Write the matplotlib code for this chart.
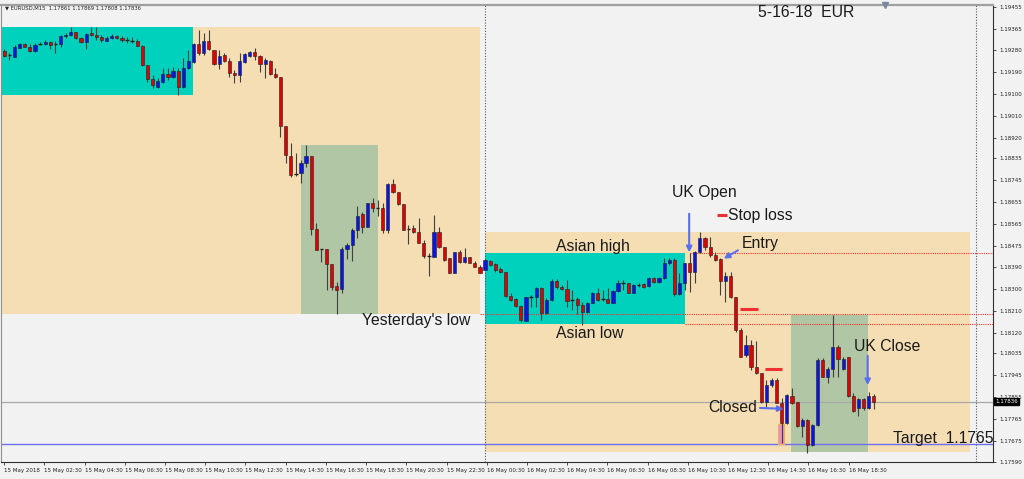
import matplotlib
matplotlib.use("Agg")
import matplotlib.pyplot as plt
import matplotlib.transforms as mtransforms
from matplotlib.patches import Rectangle
import numpy as np

# EURUSD M15 candles, 15 May 00:30 -> 16 May ~19:45
opens = [1.19277, 1.19259, 1.19252, 1.19289, 1.19303, 1.19293, 1.19277, 1.19303, 1.19303, 1.19314,
         1.19304, 1.19304, 1.19337, 1.19340, 1.19352, 1.19328, 1.19314, 1.19348, 1.19341, 1.19332,
         1.19318, 1.19328, 1.19337, 1.19328, 1.19321, 1.19318, 1.19318, 1.19297, 1.19218, 1.19160,
         1.19129, 1.19148, 1.19181, 1.19168, 1.19194, 1.19127, 1.19205, 1.19232, 1.19304, 1.19266,
         1.19317, 1.19280, 1.19221, 1.19258, 1.19236, 1.19187, 1.19177, 1.19229, 1.19256, 1.19272,
         1.19256, 1.19221, 1.19235, 1.19180, 1.19170, 1.18968, 1.18845, 1.18771, 1.18776, 1.18817,
         1.18845, 1.18544, 1.18462, 1.18462, 1.18400, 1.18311, 1.18298, 1.18462, 1.18480, 1.18541,
         1.18607, 1.18552, 1.18651, 1.18630, 1.18630, 1.18541, 1.18730, 1.18698, 1.18647, 1.18544,
         1.18551, 1.18534, 1.18489, 1.18434, 1.18431, 1.18532, 1.18470, 1.18425, 1.18366, 1.18450,
         1.18411, 1.18429, 1.18407, 1.18390, 1.18377, 1.18415, 1.18402, 1.18380, 1.18370, 1.18270,
         1.18257, 1.18229, 1.18169, 1.18267, 1.18267, 1.18304, 1.18199, 1.18254, 1.18333, 1.18308,
         1.18298, 1.18254, 1.18257, 1.18233, 1.18206, 1.18243, 1.18284, 1.18257, 1.18257, 1.18243,
         1.18291, 1.18322, 1.18322, 1.18284, 1.18315, 1.18318, 1.18311, 1.18343, 1.18326, 1.18343,
         1.18407, 1.18418, 1.18278, 1.18325, 1.18404, 1.18370, 1.18452, 1.18510, 1.18473, 1.18439,
         1.18421, 1.18332, 1.18352, 1.18265, 1.18131, 1.18028, 1.18069, 1.17978, 1.17953, 1.17836,
         1.17905, 1.17926, 1.17832, 1.17748, 1.17860, 1.17836, 1.17737, 1.17761, 1.17659, 1.17741,
         1.18008, 1.17939, 1.17969, 1.18062, 1.17969, 1.18019, 1.17860, 1.17809, 1.17848, 1.17809, 1.17861]
highs = [1.19283, 1.19269, 1.19300, 1.19307, 1.19307, 1.19303, 1.19307, 1.19313, 1.19321, 1.19318,
         1.19318, 1.19341, 1.19351, 1.19375, 1.19355, 1.19334, 1.19348, 1.19375, 1.19373, 1.19341,
         1.19337, 1.19344, 1.19341, 1.19337, 1.19332, 1.19334, 1.19324, 1.19300, 1.19218, 1.19177,
         1.19164, 1.19205, 1.19205, 1.19209, 1.19205, 1.19246, 1.19280, 1.19310, 1.19362, 1.19351,
         1.19362, 1.19280, 1.19280, 1.19266, 1.19246, 1.19198, 1.19266, 1.19269, 1.19277, 1.19287,
         1.19259, 1.19246, 1.19239, 1.19207, 1.19170, 1.18968, 1.18897, 1.18858, 1.18828, 1.18890,
         1.18845, 1.18569, 1.18462, 1.18462, 1.18400, 1.18329, 1.18473, 1.18489, 1.18548, 1.18640,
         1.18616, 1.18653, 1.18671, 1.18664, 1.18651, 1.18733, 1.18749, 1.18698, 1.18647, 1.18562,
         1.18562, 1.18589, 1.18500, 1.18445, 1.18603, 1.18555, 1.18473, 1.18425, 1.18452, 1.18459,
         1.18466, 1.18431, 1.18415, 1.18397, 1.18422, 1.18418, 1.18404, 1.18388, 1.18370, 1.18281,
         1.18261, 1.18233, 1.18267, 1.18274, 1.18308, 1.18308, 1.18261, 1.18339, 1.18339, 1.18315,
         1.18336, 1.18295, 1.18267, 1.18247, 1.18246, 1.18288, 1.18302, 1.18295, 1.18302, 1.18295,
         1.18336, 1.18336, 1.18325, 1.18319, 1.18325, 1.18325, 1.18347, 1.18349, 1.18347, 1.18425,
         1.18425, 1.18425, 1.18363, 1.18407, 1.18445, 1.18455, 1.18534, 1.18514, 1.18514, 1.18452,
         1.18425, 1.18370, 1.18370, 1.18267, 1.18138, 1.18110, 1.18090, 1.18087, 1.17953, 1.17926,
         1.17932, 1.17932, 1.17850, 1.17868, 1.17893, 1.17836, 1.17768, 1.17764, 1.17745, 1.18015,
         1.18015, 1.17980, 1.18192, 1.18069, 1.18021, 1.18021, 1.17871, 1.17850, 1.17852, 1.17878, 1.17869]
lows = [1.19250, 1.19239, 1.19252, 1.19287, 1.19291, 1.19273, 1.19273, 1.19299, 1.19299, 1.19284,
        1.19266, 1.19293, 1.19328, 1.19337, 1.19326, 1.19310, 1.19283, 1.19337, 1.19321, 1.19314,
        1.19317, 1.19324, 1.19324, 1.19314, 1.19307, 1.19310, 1.19296, 1.19214, 1.19150, 1.19123,
        1.19123, 1.19143, 1.19157, 1.19164, 1.19095, 1.19123, 1.19201, 1.19225, 1.19259, 1.19259,
        1.19280, 1.19218, 1.19201, 1.19232, 1.19168, 1.19143, 1.19150, 1.19225, 1.19252, 1.19239,
        1.19191, 1.19164, 1.19177, 1.19164, 1.18924, 1.18815, 1.18760, 1.18763, 1.18733, 1.18801,
        1.18521, 1.18459, 1.18411, 1.18295, 1.18295, 1.18196, 1.18281, 1.18421, 1.18415, 1.18507,
        1.18528, 1.18552, 1.18616, 1.18599, 1.18528, 1.18530, 1.18692, 1.18644, 1.18541, 1.18484,
        1.18528, 1.18486, 1.18425, 1.18352, 1.18431, 1.18466, 1.18415, 1.18363, 1.18363, 1.18404,
        1.18404, 1.18404, 1.18388, 1.18363, 1.18377, 1.18393, 1.18370, 1.18363, 1.18267, 1.18251,
        1.18224, 1.18165, 1.18169, 1.18226, 1.18226, 1.18172, 1.18196, 1.18251, 1.18298, 1.18295,
        1.18226, 1.18213, 1.18196, 1.18151, 1.18202, 1.18240, 1.18251, 1.18251, 1.18240, 1.18240,
        1.18288, 1.18295, 1.18281, 1.18281, 1.18308, 1.18302, 1.18308, 1.18322, 1.18322, 1.18339,
        1.18397, 1.18270, 1.18274, 1.18295, 1.18288, 1.18322, 1.18448, 1.18459, 1.18431, 1.18415,
        1.18274, 1.18247, 1.18261, 1.18124, 1.18019, 1.18021, 1.17967, 1.17950, 1.17832, 1.17816,
        1.17898, 1.17830, 1.17667, 1.17745, 1.17827, 1.17731, 1.17693, 1.17627, 1.17655, 1.17737,
        1.17937, 1.17912, 1.17939, 1.17939, 1.17967, 1.17857, 1.17795, 1.17778, 1.17802, 1.17805, 1.17808]
closes = [1.19255, 1.19259, 1.19291, 1.19303, 1.19293, 1.19274, 1.19300, 1.19303, 1.19314, 1.19299,
          1.19304, 1.19338, 1.19341, 1.19352, 1.19330, 1.19314, 1.19345, 1.19340, 1.19332, 1.19321,
          1.19328, 1.19337, 1.19328, 1.19321, 1.19321, 1.19318, 1.19297, 1.19218, 1.19162, 1.19136,
          1.19151, 1.19180, 1.19168, 1.19194, 1.19127, 1.19205, 1.19235, 1.19304, 1.19266, 1.19317,
          1.19283, 1.19221, 1.19255, 1.19236, 1.19184, 1.19177, 1.19233, 1.19261, 1.19270, 1.19256,
          1.19221, 1.19239, 1.19180, 1.19168, 1.18968, 1.18849, 1.18767, 1.18771, 1.18817, 1.18845,
          1.18544, 1.18459, 1.18462, 1.18400, 1.18308, 1.18295, 1.18462, 1.18480, 1.18541, 1.18599,
          1.18552, 1.18651, 1.18630, 1.18630, 1.18541, 1.18730, 1.18698, 1.18647, 1.18541, 1.18544,
          1.18534, 1.18489, 1.18434, 1.18434, 1.18532, 1.18470, 1.18418, 1.18366, 1.18450, 1.18411,
          1.18429, 1.18407, 1.18390, 1.18363, 1.18418, 1.18397, 1.18377, 1.18369, 1.18270, 1.18254,
          1.18229, 1.18172, 1.18265, 1.18267, 1.18304, 1.18199, 1.18254, 1.18333, 1.18306, 1.18298,
          1.18251, 1.18254, 1.18233, 1.18206, 1.18243, 1.18284, 1.18254, 1.18257, 1.18243, 1.18291,
          1.18322, 1.18322, 1.18284, 1.18315, 1.18315, 1.18308, 1.18343, 1.18326, 1.18345, 1.18407,
          1.18418, 1.18278, 1.18322, 1.18404, 1.18370, 1.18452, 1.18510, 1.18470, 1.18439, 1.18418,
          1.18332, 1.18352, 1.18267, 1.18131, 1.18021, 1.18069, 1.17978, 1.17953, 1.17836, 1.17905,
          1.17926, 1.17832, 1.17748, 1.17864, 1.17832, 1.17737, 1.17761, 1.17659, 1.17741, 1.18008,
          1.17939, 1.17969, 1.18062, 1.18010, 1.18010, 1.17860, 1.17800, 1.17848, 1.17809, 1.17861, 1.17836]

ytick_vals = [1.19455, 1.19365, 1.19280, 1.19190, 1.19100, 1.19010, 1.18920, 1.18835, 1.18745, 1.18655,
              1.18565, 1.18475, 1.18390, 1.18300, 1.18210, 1.18120, 1.18035, 1.17945, 1.17855, 1.17765,
              1.17675, 1.17590]
xtick_labels = ["15 May 2018", "15 May 02:30", "15 May 04:30", "15 May 06:30", "15 May 08:30",
                "15 May 10:30", "15 May 12:30", "15 May 14:30", "15 May 16:30", "15 May 18:30",
                "15 May 20:30", "15 May 22:30", "16 May 00:30", "16 May 02:30", "16 May 04:30",
                "16 May 06:30", "16 May 08:30", "16 May 10:30", "16 May 12:30", "16 May 14:30",
                "16 May 16:30", "16 May 18:30"]

last_price = 1.17836
target = 1.17663
asian_high = 1.18445
asian_low = 1.18155
yday_low = 1.18196

plt.rcParams['font.family'] = ['Liberation Sans', 'DejaVu Sans']

bg = "#F2F2F2"
beige = "#F5DEB3"
cyan = "#00D1BC"
green = "#B0C6A4"
red = "#E00000"
blue = "#0A14E6"
arrow_c = "#5870F0"
small = 4.0

fig = plt.figure(figsize=(10.24, 4.79), dpi=100, facecolor=bg)
ax = fig.add_axes([1 / 1024, 17 / 479, 992 / 1024, 457 / 479], facecolor=bg)
ax.set_xlim(-0.64, 193.3)
ax.set_ylim(1.17589, 1.19464)

# session boxes
def box(x0, x1, y0, y1, col):
    ax.add_patch(Rectangle((x0, y0), x1 - x0, y1 - y0, facecolor=col, edgecolor="none", zorder=1))

box(-1, 93.1, yday_low, 1.19374, beige)
box(-1, 36.9, 1.19095, 1.19374, cyan)
box(57.95, 73.0, yday_low, 1.18890, green)
box(93.9, 188.8, 1.17630, 1.18533, beige)
box(93.9, 133.0, asian_low, 1.18447, cyan)
box(153.8, 168.9, 1.17630, 1.18192, green)

# separators and levels
for sx in [93.9, 190.0]:
    ax.axvline(sx, color="#555555", lw=0.8, ls=(0, (1, 1.5)), zorder=2)
ax.hlines(asian_high, 134.1, 194, color="#FF3030", lw=0.8, ls=(0, (1, 1)), zorder=2)
ax.hlines(yday_low, 93.1, 194, color="#FF3030", lw=0.8, ls=(0, (1, 1)), zorder=2)
ax.hlines(asian_low, 133.0, 194, color="#FF3030", lw=0.8, ls=(0, (1, 1)), zorder=2)
ax.axhline(last_price, color="#A8A8A8", lw=0.9, zorder=2)
ax.axhline(target, color="#6E6EF0", lw=1.0, zorder=2)

# pink "closed" marker
ax.add_patch(Rectangle((151.3, 1.17663), 1.2, 0.00082, facecolor="#E890C8",
                       edgecolor="#F0B050", lw=0.8, zorder=2))

# candles
o = np.array(opens)
h = np.array(highs)
l = np.array(lows)
c = np.array(closes)
x = np.arange(len(o))
up = c > o + 0.00002
dn = c < o - 0.00002
dj = ~(up | dn)
ax.vlines(x, l, h, color="#404040", lw=0.8, zorder=3)
ax.bar(x[up], (c - o)[up], bottom=o[up], width=0.62, color=blue, edgecolor="#202020", lw=0.4, zorder=4)
ax.bar(x[dn], (o - c)[dn], bottom=c[dn], width=0.62, color=red, edgecolor="#202020", lw=0.4, zorder=4)
ax.hlines(c[dj], x[dj] - 0.35, x[dj] + 0.35, color="#202020", lw=1.0, zorder=4)

# stop loss dashes
for x0, x1, yy in [(139.4, 141.2, 1.18602), (143.9, 147.4, 1.18217), (148.8, 152.1, 1.17971)]:
    ax.plot([x0, x1], [yy, yy], color="#F03030", lw=2.2, solid_capstyle="butt", zorder=5)

# arrows
arr = dict(arrowstyle="-|>", color=arrow_c, lw=1.5, mutation_scale=8)
ax.annotate("", xy=(133.9, 1.18438), xytext=(133.9, 1.18619), arrowprops=arr, zorder=6)
ax.annotate("", xy=(140.2, 1.18418), xytext=(143.9, 1.18463), arrowprops=arr, zorder=6)
ax.annotate("", xy=(168.8, 1.17893), xytext=(168.8, 1.18036), arrowprops=arr, zorder=6)
ax.annotate("", xy=(152.9, 1.17807), xytext=(147.2, 1.17811), arrowprops=arr, zorder=6)

# labels
fs = 11.3
tc = "#1A1A1A"
for tx, ty, s in [(69.9, 1.18168, "Yesterday's low"), (107.9, 1.18475, "Asian high"),
                  (107.9, 1.18118, "Asian low"), (130.6, 1.18695, "UK Open"),
                  (141.5, 1.18602, "Stop loss"), (144.1, 1.18484, "Entry"),
                  (137.6, 1.17811, "Closed"), (166.2, 1.18061, "UK Close"),
                  (173.8, 1.17684, "Target  1.1765"), (147.4, 1.19432, "5-16-18  EUR")]:
    ax.text(tx, ty, s, fontsize=fs, color=tc, ha="left", va="center", zorder=7)

fig.text(5 / 1024, 1 - 8 / 479, "\u25bc EURUSD,M15  1.17861 1.17869 1.17808 1.17836",
         fontsize=3.8, family="DejaVu Sans", color="#222222", va="center")
ax.plot([172.2], [1.19464], marker="v", color="#7A8AA0", ms=4, clip_on=False, zorder=8)

# axes styling
ax.yaxis.tick_right()
ax.set_yticks(ytick_vals)
ax.set_yticklabels([f"{v:.5f}" for v in ytick_vals], fontsize=small, family="DejaVu Sans", color="#222222")
ax.set_xticks(np.arange(len(xtick_labels)) * 7.86)
ax.set_xticklabels(xtick_labels, fontsize=small, family="DejaVu Sans", color="#222222", ha="left")
ax.tick_params(axis="y", length=2, width=0.6, pad=2.5, color="#333333")
ax.tick_params(axis="x", length=2, width=0.6, pad=2, color="#333333")
ax.spines["right"].set_color("#303030")
ax.spines["bottom"].set_color("#303030")
ax.spines["left"].set_color("#909090")
ax.spines["top"].set_color("#A0A0A0")
ax.spines["top"].set_linewidth(1.6)

trans = mtransforms.blended_transform_factory(ax.transAxes, ax.transData)
ax.text(1.002, last_price, "1.17836", transform=trans, fontsize=small, family="DejaVu Sans",
        color="white", va="center", ha="left",
        bbox=dict(facecolor="black", edgecolor="black", pad=0.8), zorder=9, clip_on=False)

fig.savefig("out.png", dpi=100, facecolor=bg)
